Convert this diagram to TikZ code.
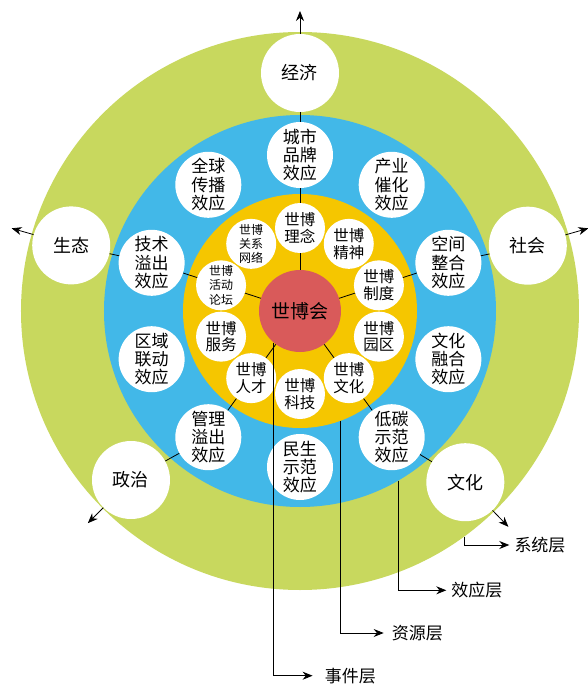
\documentclass[tikz,border=0pt]{standalone}
\usepackage{fontspec}
\setmainfont{Noto Sans CJK SC}
\usetikzlibrary{arrows.meta}
\definecolor{ringgreen}{RGB}{200,216,94}
\definecolor{ringblue}{RGB}{66,184,232}
\definecolor{ringyellow}{RGB}{245,198,0}
\definecolor{hubred}{RGB}{217,90,90}

\begin{document}
\begin{tikzpicture}[x=1pt,y=1pt,
	hub_node/.style={circle,fill=hubred,inner sep=0pt,minimum size=82pt,font=\fontsize{19}{21}\selectfont},
	inner_node/.style={circle,fill=white,inner sep=0pt,minimum size=50pt,align=center,font=\fontsize{15.5}{16.7}\selectfont},
	small_node/.style={inner_node,font=\fontsize{12}{14.3}\selectfont},
	mid_node/.style={circle,fill=white,inner sep=0pt,minimum size=66pt,align=center,font=\fontsize{17}{18.3}\selectfont},
	outer_node/.style={circle,fill=white,inner sep=0pt,minimum size=78pt,font=\fontsize{18}{20}\selectfont},
	layer_label/.style={anchor=west,inner ysep=0pt,inner xsep=5pt,font=\fontsize{17}{19}\selectfont},
	spoke/.style={line width=0.8pt},
	pointer/.style={line width=0.8pt,-{Stealth[length=10pt,width=8pt]}}]
\useasboundingbox (-300,-375) rectangle (287,311);
% rings
\fill[ringgreen] (0,0) circle (279);
\fill[ringblue] (0,0) circle (196);
\fill[ringyellow] (0,0) circle (117);
	\node[hub_node] (hui) at (0,0) {世博会};
% resource layer
	\node[inner_node] (a1) at (90:83) {世博\\理念};
	\node[small_node] (a2) at (126:83) {世博\\关系\\网络};
	\node[small_node] (a3) at (162:83) {世博\\活动\\论坛};
	\node[inner_node] (a4) at (198:83) {世博\\服务};
	\node[inner_node] (a5) at (234:83) {世博\\人才};
	\node[inner_node] (a6) at (270:83) {世博\\科技};
	\node[inner_node] (a7) at (306:83) {世博\\文化};
	\node[inner_node] (a8) at (342:83) {世博\\园区};
	\node[inner_node] (a9) at (18:83) {世博\\制度};
	\node[inner_node] (a10) at (54:83) {世博\\精神};
% effect layer
	\node[mid_node] (b1) at (90:156) {城市\\品牌\\效应};
	\node[mid_node] (b2) at (126:156) {全球\\传播\\效应};
	\node[mid_node] (b3) at (162:156) {技术\\溢出\\效应};
	\node[mid_node] (b4) at (198:156) {区域\\联动\\效应};
	\node[mid_node] (b5) at (234:156) {管理\\溢出\\效应};
	\node[mid_node] (b6) at (270:156) {民生\\示范\\效应};
	\node[mid_node] (b7) at (306:156) {低碳\\示范\\效应};
	\node[mid_node] (b8) at (342:156) {文化\\融合\\效应};
	\node[mid_node] (b9) at (18:156) {空间\\整合\\效应};
	\node[mid_node] (b10) at (54:156) {产业\\催化\\效应};
% system layer
	\node[outer_node] (o1) at (90:238) {经济};
	\node[outer_node] (o2) at (164:238) {生态};
	\node[outer_node] (o3) at (16:237) {社会};
	\node[outer_node] (o4) at (225:239) {政治};
	\node[outer_node] (o5) at (-46:238) {文化};
	\coordinate (e1) at (90:300);
	\coordinate (e2) at (164:300);
	\coordinate (e3) at (16:300);
	\coordinate (e4) at (225:300);
	\coordinate (e5) at (-46:300);
\draw[spoke] (hui) -- (a1) -- (b1) -- (o1);
\draw[spoke] (hui) -- (a3) -- (b3) -- (o2);
\draw[spoke] (hui) -- (a9) -- (b9) -- (o3);
\draw[spoke] (hui) -- (a5) -- (b5) -- (o4);
\draw[spoke] (hui) -- (a7) -- (b7) -- (o5);
\draw[pointer] (o1) -- (e1);
\draw[pointer] (o2) -- (e2);
\draw[pointer] (o3) -- (e3);
\draw[pointer] (o4) -- (e4);
\draw[pointer] (o5) -- (e5);
% layer labels
	\coordinate (s1) at (-54:279);
	\coordinate (s2) at (-60:196);
	\coordinate (s3) at (-70:117);
	\node[layer_label] (t1) at (209.3,-234) {系统层};
	\node[layer_label] (t2) at (146.3,-279.3) {效应层};
	\node[layer_label,inner xsep=8pt] (t3) at (83.7,-322) {资源层};
	\node[layer_label,inner xsep=12pt] (t4) at (12.6,-364.7) {事件层};
\draw[pointer] (s1) |- (t1.west);
\draw[pointer] (s2) |- (t2.west);
\draw[pointer] (s3) |- (t3.west);
\draw[pointer] (hui.230) |- (t4.west);
\end{tikzpicture}
\end{document}
